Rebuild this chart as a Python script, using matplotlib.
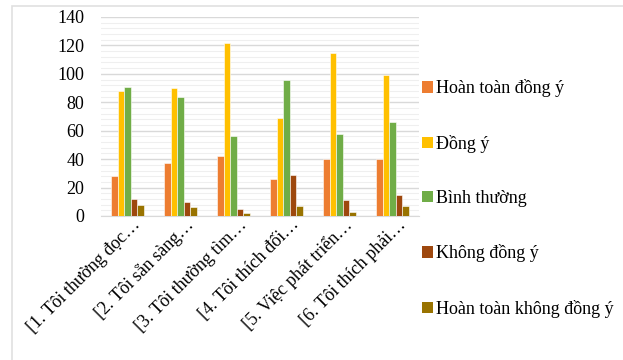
import numpy as np
import matplotlib
matplotlib.use('Agg')
import matplotlib.pyplot as plt
from matplotlib.patches import Rectangle, Patch
from matplotlib.transforms import ScaledTranslation

# survey questions (truncated as on the axis) and answer counts per option
questions = ['[1. Tôi thường đọc…', '[2. Tôi sẵn sàng…', '[3. Tôi thường tìm…',
             '[4. Tôi thích đối…', '[5. Việc phát triển…', '[6. Tôi thích phải…']
options = ['Hoàn toàn đồng ý', 'Đồng ý', 'Bình thường', 'Không đồng ý',
           'Hoàn toàn không đồng ý']
hoan_toan_dong_y = [28, 37, 42, 26, 40, 40]
dong_y = [88, 90, 122, 69, 115, 99]
binh_thuong = [91, 84, 56, 96, 58, 66]
khong_dong_y = [12, 10, 5, 29, 11, 15]
hoan_toan_khong = [8, 6, 2, 7, 3, 7]

series = [hoan_toan_dong_y, dong_y, binh_thuong, khong_dong_y, hoan_toan_khong]
colors = ['#ED7D31', '#FFC000', '#70AD47', '#9E480E', '#997300']

plt.rcParams['font.family'] = ['Liberation Serif', 'DejaVu Serif']
fs = 13

fig = plt.figure(figsize=(6.23, 3.6), dpi=100)
# outer chart frame
fig.patches.append(Rectangle((12 / 623, -0.05), 1.0, 1 - 6 / 360 + 0.05,
                             transform=fig.transFigure, fill=False,
                             edgecolor='#e0e0e0', linewidth=1.2))

ax = fig.add_axes([101 / 623, 0.40, 318 / 623, 0.5528])

x = np.arange(len(questions))
w = 0.125
for i, (vals, c) in enumerate(zip(series, colors)):
    ax.bar(x + (i - 2) * w, vals, width=w, color=c, edgecolor='white',
           linewidth=0.4, zorder=3)

ax.set_xlim(-0.5, len(questions) - 0.5)
ax.set_ylim(0, 140)
ax.set_yticks(range(0, 141, 20))
ax.set_yticks(range(0, 141, 4), minor=True)
ax.grid(axis='y', which='major', color='#d9d9d9', linewidth=1.0, zorder=0)
ax.grid(axis='y', which='minor', color='#efefef', linewidth=0.8, zorder=0)
for s in ['top', 'right', 'left']:
    ax.spines[s].set_visible(False)
ax.spines['bottom'].set_color('#d9d9d9')
ax.tick_params(axis='y', which='both', length=0, pad=12, labelsize=fs)
ax.tick_params(axis='x', length=0, labelsize=fs)

ax.set_xticks(x)
ax.set_xticklabels(questions, rotation=45, ha='right', va='center',
                   rotation_mode='anchor')
offset = ScaledTranslation(7.5 / 72, -1 / 72, fig.dpi_scale_trans)
for lbl in ax.get_xticklabels():
    lbl.set_transform(lbl.get_transform() + offset)

handles = [Patch(facecolor=c, edgecolor='none') for c in colors]
fig.legend(handles, options, loc='upper left', bbox_to_anchor=(415 / 623, 0.80),
           frameon=False, fontsize=fs, handlelength=0.6, handleheight=0.6,
           handletextpad=0.15, labelspacing=2.07, borderaxespad=0)

fig.savefig('out.png', dpi=100)
